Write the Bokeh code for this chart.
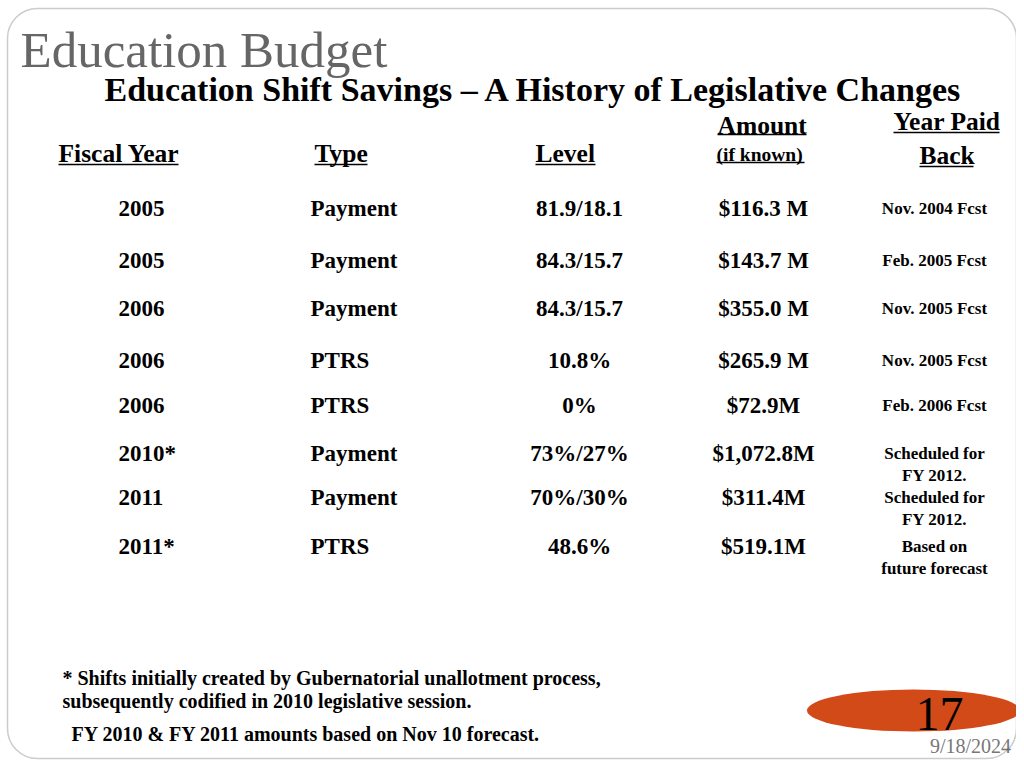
from bokeh.plotting import figure
from bokeh.models import Range1d, BoxAnnotation, ColumnDataSource
from bokeh.core.properties import value
from bokeh.embed import file_html
from bokeh.resources import INLINE

# ---- data ----
fiscal_years = ["2005", "2005", "2006", "2006", "2006", "2010*", "2011", "2011*"]
types = ["Payment", "Payment", "Payment", "PTRS", "PTRS", "Payment", "Payment", "PTRS"]
levels = ["81.9/18.1", "84.3/15.7", "84.3/15.7", "10.8%", "0%", "73%/27%", "70%/30%", "48.6%"]
amounts = ["$116.3 M", "$143.7 M", "$355.0 M", "$265.9 M", "$72.9M", "$1,072.8M", "$311.4M", "$519.1M"]
paid_back = ["Nov. 2004 Fcst", "Feb. 2005 Fcst", "Nov. 2005 Fcst", "Nov. 2005 Fcst",
             "Feb. 2006 Fcst", "Scheduled for\nFY 2012.", "Scheduled for\nFY 2012.",
             "Based on\nfuture forecast"]

# ---- layout ----
row_y = [208, 260, 308, 360, 405, 453, 497, 546]
SERIF = value("Liberation Serif")

p = figure(width=1016, height=760, x_range=Range1d(0, 1016), y_range=Range1d(760, 0),
           output_backend="svg", toolbar_location=None, min_border=0)
p.axis.visible = False
p.grid.visible = False
p.outline_line_color = None
p.background_fill_color = "white"
p.border_fill_color = "white"

# slide frame
p.add_layout(BoxAnnotation(left=7, right=1016, top=8, bottom=758, fill_color=None,
                           line_color="#555555", line_width=1.5, border_radius=30))

def txt(x, y, s, size, align="left", color="black", style="bold", baseline="middle"):
    p.text(x=[x], y=[y], text=[s], text_font=SERIF, text_font_size=f"{size}px",
           text_font_style=style, text_color=color, text_align=align,
           text_baseline=baseline)

# titles
txt(20, 49, "Education Budget", 51, color="#666666", style="normal")
txt(104, 89, "Education Shift Savings \u2013 A History of Legislative Changes", 34)

# headers (text, x, y, size, underline x0, x1, underline y)
headers = [
    ("Fiscal Year", 58, 153, 25.5, 58, 178, 164),
    ("Type", 314, 153, 25.5, 314, 367, 164),
    ("Level", 535, 153, 25.5, 535, 595, 164),
    ("Amount", 717, 125, 25.5, 717, 806, 134),
    ("(if known)", 716, 154, 19.5, 716, 804, 162),
    ("Year Paid", 893, 121, 25.5, 893, 999, 132),
    ("Back", 919, 155, 25.5, 919, 973, 166),
]
for s, x, y, size, u0, u1, uy in headers:
    txt(x, y, s, size)
    p.segment(x0=[u0], y0=[uy], x1=[u1], y1=[uy], line_color="black", line_width=1.5)

src = ColumnDataSource(dict(y=row_y, fy=fiscal_years, ty=types, lv=levels, am=amounts,
                            pb=paid_back, ytop=[v - 10 for v in row_y]))
common = dict(source=src, text_font=SERIF, text_font_style="bold", text_color="black")
p.text(x=118, y="y", text="fy", text_font_size="23px", text_align="left",
       text_baseline="middle", **common)
p.text(x=310, y="y", text="ty", text_font_size="23px", text_align="left",
       text_baseline="middle", **common)
p.text(x=579, y="y", text="lv", text_font_size="23px", text_align="center",
       text_baseline="middle", **common)
p.text(x=763, y="y", text="am", text_font_size="23px", text_align="center",
       text_baseline="middle", **common)
p.text(x=934, y="ytop", text="pb", text_font_size="17px", text_align="center",
       text_baseline="top", text_line_height=1.2, **common)

# footnotes
txt(62, 677, "* Shifts initially created by Gubernatorial unallotment process,", 20)
txt(62, 700, "subsequently codified in 2010 legislative session.", 20)
txt(71, 733, "FY 2010 & FY 2011 amounts based on Nov 10 forecast.", 20)

# slide number badge
p.ellipse(x=[913], y=[710], width=213, height=42, fill_color="#D24A17", line_color=None)
txt(939, 713, "17", 48, align="center", style="normal")
txt(970, 745, "9/18/2024", 20, align="center", color="#777777", style="normal")

open("out.html", "w").write(file_html(p, INLINE))
